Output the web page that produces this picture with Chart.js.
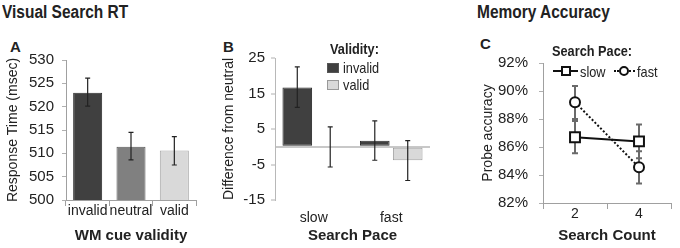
<!DOCTYPE html>
<html>
<head>
<meta charset="utf-8">
<script src="https://cdn.jsdelivr.net/npm/chart.js@4.4.1/dist/chart.umd.min.js"></script>
<style>
  body { margin: 0; background: #fff; }
  #fig { position: relative; width: 680px; height: 248px; overflow: hidden;
         font-family: "Liberation Sans", Arial, sans-serif; color: #222; }
  .cv { position: absolute; top: 0; }
  .txt { position: absolute; white-space: nowrap; line-height: 1; transform-origin: left center; }
  .head { font-size: 18px; font-weight: bold; transform: scaleX(0.86); }
  .letter { font-size: 15px; font-weight: bold; }
  .leg { font-size: 15px; transform: scaleX(0.85); }
  .box { position: absolute; width: 10px; height: 8px; border: 1px solid #555; }
</style>
</head>
<body>
<div id="fig">
  <div class="txt head" style="left:2px; top:3px;">Visual Search RT</div>
  <div class="txt head" style="left:477px; top:3px;">Memory Accuracy</div>
  <div class="txt letter" style="left:10px; top:39px;">A</div>
  <div class="txt letter" style="left:223px; top:39px;">B</div>
  <div class="txt letter" style="left:480px; top:36px;">C</div>

  <canvas id="chartA" class="cv" style="left:0px;" width="220" height="248"></canvas>
  <canvas id="chartB" class="cv" style="left:220px;" width="220" height="248"></canvas>
  <canvas id="chartC" class="cv" style="left:460px;" width="220" height="248"></canvas>

  <!-- legend B -->
  <div class="txt leg" style="left:330px; top:41px; font-weight:bold;">Validity:</div>
  <div class="box" style="left:327px; top:63px; background:#404040;"></div>
  <div class="txt leg" style="left:343px; top:60px;">invalid</div>
  <div class="box" style="left:327px; top:80px; background:#d9d9d9; border-color:#999;"></div>
  <div class="txt leg" style="left:343px; top:77px;">valid</div>

  <!-- legend C -->
  <div class="txt leg" style="left:552px; top:43px; font-weight:bold;">Search Pace:</div>
  <div style="position:absolute; left:553px; top:70px; width:25px; border-top:2px solid #111;"></div>
  <div style="position:absolute; left:561px; top:66px; width:6px; height:6px; border:2px solid #111; background:#fff;"></div>
  <div class="txt leg" style="left:580px; top:64px;">slow</div>
  <div style="position:absolute; left:614px; top:70px; width:21px; border-top:2px dotted #111;"></div>
  <div style="position:absolute; left:619px; top:66px; width:6px; height:6px; border:2px solid #111; border-radius:50%; background:#fff;"></div>
  <div class="txt leg" style="left:637px; top:64px;">fast</div>
</div>

<script>
// Panel A: visual search RT by WM cue validity
const cueLabels = ['invalid', 'neutral', 'valid'];
const rtMeans = [523.0, 511.4, 510.6];
const rtErrLow = [520.1, 508.6, 507.5];
const rtErrHigh = [526.1, 514.5, 513.6];
const rtTicks = [500, 505, 510, 515, 520, 525, 530];

// Panel B: difference from neutral by search pace
const paceLabels = ['slow', 'fast'];
const invalidDiff = [16.7, 1.7];
const invalidLow = [11.1, -3.8];
const invalidHigh = [22.5, 7.3];
const validDiff = [0, -3.8];
const validLow = [-5.7, -9.5];
const validHigh = [5.6, 1.7];
const diffTicks = [-15, -5, 5, 15, 25];

// Panel C: probe accuracy by search count
const countLabels = ['2', '4'];
const slowAcc = [86.7, 86.4];
const slowLow = [85.55, 85.2];
const slowHigh = [87.85, 87.6];
const fastAcc = [89.2, 84.55];
const fastLow = [88.0, 83.4];
const fastHigh = [90.35, 85.7];
const accTicks = [82, 84, 86, 88, 90, 92];

Chart.defaults.font.family = '"Liberation Sans", Arial, sans-serif';
Chart.defaults.color = '#222';
Chart.defaults.animation = false;
Chart.defaults.responsive = false;

// draws error bars from errLow / errHigh on each dataset
const errorBars = {
    id: 'errorBars',
    drawBars(chart, opts) {
        const ctx = chart.ctx;
        const yScale = chart.scales.y;
        const cap = opts.cap || 3;
        chart.data.datasets.forEach((ds, i) => {
            if (!ds.errLow) return;
            const meta = chart.getDatasetMeta(i);
            ctx.save();
            ctx.strokeStyle = opts.color || '#222';
            ctx.lineWidth = opts.width || 1;
            meta.data.forEach((el, j) => {
                const x = el.x;
                const top = yScale.getPixelForValue(ds.errHigh[j]);
                const bot = yScale.getPixelForValue(ds.errLow[j]);
                ctx.beginPath();
                ctx.moveTo(x, top);
                ctx.lineTo(x, bot);
                ctx.moveTo(x - cap, top);
                ctx.lineTo(x + cap, top);
                ctx.moveTo(x - cap, bot);
                ctx.lineTo(x + cap, bot);
                ctx.stroke();
            });
            ctx.restore();
        });
    },
    beforeDatasetsDraw(chart, args, opts) {
        if (opts.under) this.drawBars(chart, opts);
    },
    afterDatasetsDraw(chart, args, opts) {
        if (!opts.under) this.drawBars(chart, opts);
    }
};
Chart.register(errorBars);

function fixTicks(values) {
    return function(scale) {
        scale.ticks = values.map(v => ({ value: v }));
    };
}

const tickFont = { size: 15 };
const xTitleFont = { size: 15, weight: 'bold' };
const yTitleFont = { size: 14 };

// ---- Panel A ----
new Chart(document.getElementById('chartA'), {
    type: 'bar',
    data: {
        labels: cueLabels,
        datasets: [{
            data: rtMeans,
            errLow: rtErrLow,
            errHigh: rtErrHigh,
            backgroundColor: ['#404040', '#808080', '#d9d9d9'],
            borderColor: ['#2a2a2a', '#5a5a5a', '#a8a8a8'],
            borderWidth: 1,
            borderSkipped: false,
            barPercentage: 0.67,
            categoryPercentage: 1
        }]
    },
    options: {
        layout: { padding: { top: 60, right: 24, left: 0, bottom: 0 } },
        plugins: {
            legend: { display: false },
            tooltip: { enabled: false },
            errorBars: { color: '#222', width: 1.2, cap: 2.5 }
        },
        scales: {
            x: {
                afterFit: s => { s.height = 48; },
                grid: { drawOnChartArea: false, tickLength: 6, color: '#a0a0a0' },
                border: { color: '#a0a0a0' },
                ticks: { font: { size: 14, lineHeight: 1 }, padding: -2, color: '#222', maxRotation: 0, autoSkip: false },
                title: { display: true, text: 'WM cue validity', font: xTitleFont, padding: { top: 0, bottom: 3 }, color: '#222' }
            },
            y: {
                min: 500, max: 530,
                afterFit: s => { s.width = 66; },
                afterBuildTicks: fixTicks(rtTicks),
                grid: { drawOnChartArea: false, tickLength: 4, color: '#b0b0b0' },
                border: { color: '#a0a0a0' },
                ticks: { font: tickFont, padding: 8, color: '#222' },
                title: { display: true, text: 'Response Time (msec)', font: yTitleFont, padding: { top: 5, bottom: 0 }, color: '#222' }
            }
        }
    }
});

// ---- Panel B ----
new Chart(document.getElementById('chartB'), {
    type: 'bar',
    data: {
        labels: paceLabels,
        datasets: [{
            label: 'invalid',
            data: invalidDiff,
            errLow: invalidLow,
            errHigh: invalidHigh,
            backgroundColor: '#404040',
            borderColor: '#2a2a2a',
            borderWidth: 1,
            borderSkipped: false,
            barPercentage: 0.9,
            categoryPercentage: 0.85
        }, {
            label: 'valid',
            data: validDiff,
            errLow: validLow,
            errHigh: validHigh,
            backgroundColor: '#d9d9d9',
            borderColor: '#a0a0a0',
            borderWidth: 1,
            borderSkipped: false,
            barPercentage: 0.9,
            categoryPercentage: 0.85
        }]
    },
    options: {
        layout: { padding: { top: 58, right: 10, left: 0, bottom: 0 } },
        plugins: {
            legend: { display: false },
            tooltip: { enabled: false },
            errorBars: { color: '#222', width: 1.2, cap: 2.5 }
        },
        scales: {
            x: {
                afterFit: s => { s.height = 48; },
                grid: { display: false, drawTicks: false },
                border: { display: false },
                ticks: { font: { size: 14, lineHeight: 1 }, padding: 11, color: '#222', maxRotation: 0 },
                title: { display: true, text: 'Search Pace', font: xTitleFont, padding: { top: 0, bottom: 3 }, color: '#222' }
            },
            y: {
                min: -15, max: 25,
                afterFit: s => { s.width = 55; },
                afterBuildTicks: fixTicks([-15, -5, 0, 5, 15, 25]),
                grid: {
                    tickLength: 4,
                    color: c => (c.tick && c.tick.value === 0) ? '#c8c8c8' : 'rgba(0,0,0,0)',
                    lineWidth: 2,
                    tickColor: c => (c.tick && c.tick.value === 0) ? 'rgba(0,0,0,0)' : '#b0b0b0',
                    tickWidth: 1
                },
                border: { color: '#b8b8b8' },
                ticks: {
                    font: tickFont, padding: 6, color: '#222',
                    callback: v => diffTicks.includes(v) ? v : ''
                },
                title: { display: true, text: 'Difference from neutral', font: yTitleFont, padding: { top: 1, bottom: 0 }, color: '#222' }
            }
        }
    }
});

// ---- Panel C ----
new Chart(document.getElementById('chartC'), {
    type: 'line',
    data: {
        labels: countLabels,
        datasets: [{
            label: 'slow',
            data: slowAcc,
            errLow: slowLow,
            errHigh: slowHigh,
            borderColor: '#111',
            borderWidth: 2,
            pointStyle: 'rect',
            pointRadius: 7,
            pointBorderWidth: 2,
            pointBackgroundColor: '#fff',
            pointBorderColor: '#111'
        }, {
            label: 'fast',
            data: fastAcc,
            errLow: fastLow,
            errHigh: fastHigh,
            borderColor: '#111',
            borderWidth: 2,
            borderDash: [2, 2],
            pointStyle: 'circle',
            pointRadius: 5,
            pointBorderWidth: 2,
            pointBackgroundColor: '#fff',
            pointBorderColor: '#111'
        }]
    },
    options: {
        layout: { padding: { top: 63, right: 2, left: 0, bottom: 0 } },
        plugins: {
            legend: { display: false },
            tooltip: { enabled: false },
            errorBars: { color: '#6a6a6a', width: 2, cap: 3, under: true }
        },
        scales: {
            x: {
                offset: true,
                afterFit: s => { s.height = 45; },
                grid: { drawOnChartArea: false, offset: true, tickLength: 6, color: '#a0a0a0' },
                border: { color: '#a0a0a0' },
                ticks: { font: { size: 14, lineHeight: 1 }, padding: -2, color: '#222', maxRotation: 0 },
                title: { display: true, text: 'Search Count', font: xTitleFont, padding: { top: 0, bottom: 3 }, color: '#222' }
            },
            y: {
                min: 82, max: 92,
                afterFit: s => { s.width = 83; },
                afterBuildTicks: fixTicks(accTicks),
                grid: { drawOnChartArea: false, tickLength: 4, color: '#b0b0b0' },
                border: { color: '#a0a0a0' },
                ticks: { font: tickFont, padding: 11, color: '#222', callback: v => v + '%' },
                title: { display: true, text: 'Probe accuracy', font: yTitleFont, padding: { top: 20, bottom: 0 }, color: '#222' }
            }
        }
    }
});
</script>
</body>
</html>
